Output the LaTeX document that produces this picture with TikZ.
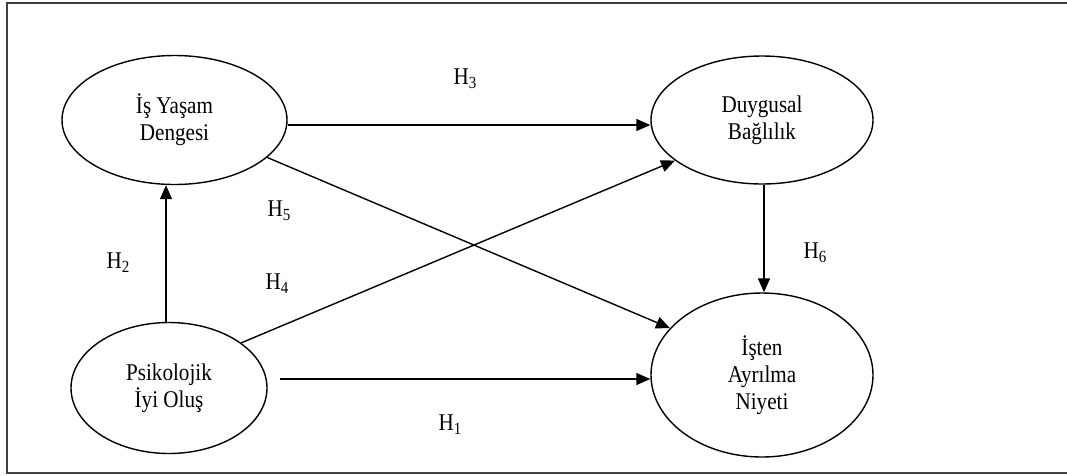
\documentclass[tikz,border=0pt]{standalone}
\usepackage{fontspec}
\setmainfont{Liberation Serif}
\newfontfamily\narrowserif[FakeStretch=0.88]{Liberation Serif}
\usetikzlibrary{shapes.geometric,arrows.meta}
\tikzset{
  latent/.style={ellipse,draw,line width=1.4pt,inner sep=0pt,align=center,
    font=\narrowserif\fontsize{24}{27}\selectfont},
  arr/.style={line width=1.4pt,-{Triangle[length=14pt,width=12pt]}},
  hlab/.style={font=\narrowserif\fontsize{24}{27}\selectfont,inner sep=0pt},
  frame/.style={draw=black!75,line width=1.8pt}
}
\newcommand{\hyp}[1]{H\raisebox{-0.16em}{\fontsize{17}{19}\selectfont #1}}
\begin{document}
\begin{tikzpicture}[x=1pt,y=-1pt]
\useasboundingbox (0,0) rectangle (1067,475);
\draw[frame] (1080,3) -- (7,3) -- (7,473) -- (1080,473);
\node[latent,minimum width=225pt,minimum height=129pt] (IY) at (174.5,120) {İş Yaşam\\Dengesi};
\node[latent,minimum width=222pt,minimum height=128pt] (DB) at (762,120) {Duygusal\\Bağlılık};
\node[latent,minimum width=196pt,minimum height=131pt] (PI) at (169,388) {Psikolojik\\İyi Oluş};
\node[latent,minimum width=222pt,minimum height=164pt] (IA) at (762,375) {İşten\\Ayrılma\\Niyeti};
% connectors
\draw[arr] ([yshift=-5pt]IY.east) -- ([yshift=-5pt]DB.west);
\draw[arr] (IY.-22) -- (IA.153);
\draw[arr] (PI.32) -- (DB.-155);
\draw[arr] ([xshift=2pt]DB.south) -- ([xshift=2pt]IA.north);
\draw[arr] ([xshift=-3pt]PI.north) -- ([xshift=-3pt]PI.north |- IY.south);
\coordinate (h1s) at ([xshift=12pt,yshift=9pt]PI.east);
\draw[arr] (h1s) -- (h1s -| IA.west);
% labels
\node[hlab] (l3) at (465,79) {\hyp{3}};
\node[hlab] (l5) at (279,211) {\hyp{5}};
\node[hlab] (l2) at (118,263) {\hyp{2}};
\node[hlab] (l4) at (277,284) {\hyp{4}};
\node[hlab] (l6) at (815,253) {\hyp{6}};
\node[hlab] (l1) at (450,425) {\hyp{1}};
\end{tikzpicture}
\end{document}
